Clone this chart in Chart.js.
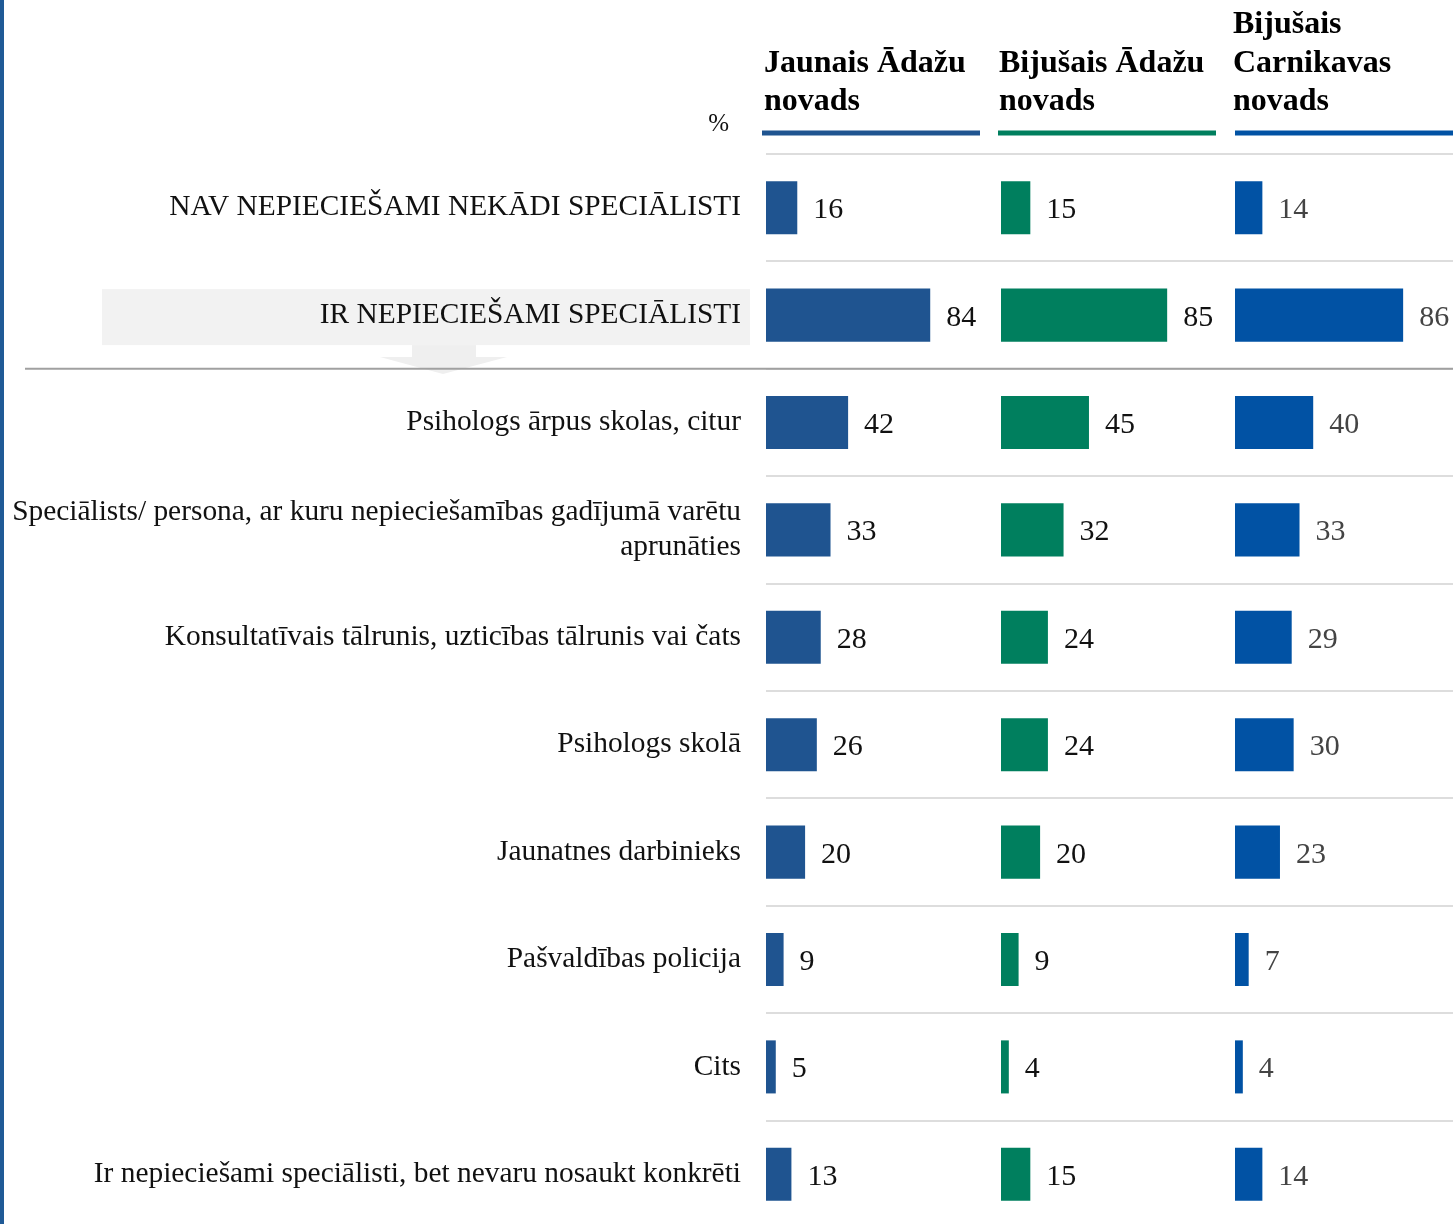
<!DOCTYPE html>
<html lang="lv">
<head>
<meta charset="utf-8">
<title>Speciālisti</title>
<script src="https://cdn.jsdelivr.net/npm/chart.js@4/dist/chart.umd.min.js"></script>
<style>
  html, body { margin: 0; padding: 0; background: #fff; overflow: hidden; }
  #wrap { position: absolute; left: 0; top: 0; width: 1453px; height: 1228px; }
</style>
</head>
<body>
<div id="wrap"><canvas id="chart"></canvas></div>
<script>
// Dati (procenti)
const kategorijas = [
    'NAV NEPIECIEŠAMI NEKĀDI SPECIĀLISTI',
    'IR NEPIECIEŠAMI SPECIĀLISTI',
    'Psihologs ārpus skolas, citur',
    ['Speciālists/ persona, ar kuru nepieciešamības gadījumā varētu', 'aprunāties'],
    'Konsultatīvais tālrunis, uzticības tālrunis vai čats',
    'Psihologs skolā',
    'Jaunatnes darbinieks',
    'Pašvaldības policija',
    'Cits',
    'Ir nepieciešami speciālisti, bet nevaru nosaukt konkrēti'
];
const jaunaisAdazu = [16, 84, 42, 33, 28, 26, 20, 9, 5, 13];
const bijusaisAdazu = [15, 85, 45, 32, 24, 24, 20, 9, 4, 15];
const bijusaisCarnikava = [14, 86, 40, 33, 29, 30, 23, 7, 4, 14];
const virsraksti = [
    ['Jaunais Ādažu', 'novads'],
    ['Bijušais Ādažu', 'novads'],
    ['Bijušais', 'Carnikavas', 'novads']
];

const krasas = ['#1f5490', '#007f5e', '#0152a4'];
const vertibuKrasas = ['#111111', '#111111', '#444444'];
const svitrasNobide = [-4, -3, 0];
const fonts = "'Liberation Serif', 'Times New Roman', serif";

// Spraudnis: fons, virsraksti, vērtības, atdalītāji
const zimejums = {
    id: 'zimejums',
    beforeDraw(chart) {
        const ctx = chart.ctx;
        const y = chart.scales.y;
        ctx.save();
        // zilā josla kreisajā malā
        ctx.fillStyle = '#1f5a96';
        ctx.fillRect(0, 0, 4, chart.height);

        // pelēkais lauks ar bultu aiz "IR NEPIECIEŠAMI SPECIĀLISTI"
        const yc = y.getPixelForValue(1);
        ctx.fillStyle = '#f2f2f2';
        ctx.fillRect(102, yc - 26, 648, 56);
        ctx.fillStyle = '#efefef';
        ctx.fillRect(412, yc + 30, 64, 12);
        ctx.beginPath();
        ctx.moveTo(380, yc + 42);
        ctx.lineTo(507, yc + 42);
        ctx.lineTo(443, yc + 59);
        ctx.closePath();
        ctx.fill();

        // "%"
        ctx.fillStyle = '#111';
        ctx.font = '25px ' + fonts;
        ctx.textAlign = 'right';
        ctx.textBaseline = 'alphabetic';
        ctx.fillText('%', 729, 131);

        // kolonnu virsraksti
        ['x1', 'x2', 'x3'].forEach(function (id, i) {
            const s = chart.scales[id];
            const rindas = virsraksti[i];
            ctx.fillStyle = '#000';
            ctx.font = 'bold 32px ' + fonts;
            ctx.textAlign = 'left';
            for (let k = 0; k < rindas.length; k++) {
                const base = 110 - (rindas.length - 1 - k) * 38.5;
                ctx.fillText(rindas[k], s.left - 2, base);
            }
            ctx.fillStyle = krasas[i];
            const x0 = s.left + svitrasNobide[i];
            ctx.fillRect(x0, 130.5, Math.min(218, chart.width - x0), 5);
        });
        ctx.restore();
    },
    afterDatasetsDraw(chart) {
        const ctx = chart.ctx;
        const y = chart.scales.y;
        ctx.save();
        // vērtību etiķetes
        ctx.font = '30px ' + fonts;
        ctx.textAlign = 'left';
        ctx.textBaseline = 'alphabetic';
        chart.data.datasets.forEach(function (ds, i) {
            const meta = chart.getDatasetMeta(i);
            ctx.fillStyle = vertibuKrasas[i];
            meta.data.forEach(function (bar, j) {
                ctx.fillText(String(ds.data[j]), bar.x + 16, bar.y + 10.5);
            });
        });
        // tumšākā atdalītāja līnija
        const ly = (y.getPixelForValue(1) + y.getPixelForValue(2)) / 2;
        ctx.strokeStyle = '#a0a0a0';
        ctx.lineWidth = 2;
        ctx.beginPath();
        ctx.moveTo(25, ly);
        ctx.lineTo(chart.width, ly);
        ctx.stroke();
        ctx.restore();
    }
};

const datuKopas = [jaunaisAdazu, bijusaisAdazu, bijusaisCarnikava].map(function (d, i) {
    return {
        label: virsraksti[i].join(' '),
        data: d,
        xAxisID: 'x' + (i + 1),
        backgroundColor: krasas[i],
        grouped: false,
        barPercentage: 0.494,
        categoryPercentage: 1.0
    };
});

function xAss(max, weight) {
    return {
        type: 'linear',
        position: 'bottom',
        stack: 'paneli',
        stackWeight: weight,
        min: 0,
        max: max,
        display: false
    };
}

const grafiks = new Chart(document.getElementById('chart'), {
    type: 'bar',
    data: { labels: kategorijas, datasets: datuKopas },
    options: {
        indexAxis: 'y',
        responsive: true,
        maintainAspectRatio: false,
        animation: false,
        layout: { padding: { top: 154, left: 0, right: 0, bottom: 0 } },
        plugins: { legend: { display: false }, tooltip: { enabled: false } },
        scales: {
            x1: xAss(120.2, 235),
            x2: xAss(119.7, 234),
            x3: xAss(111.5, 218),
            y: {
                type: 'category',
                position: 'left',
                offset: true,
                afterFit: function (scale) { scale.width = 766; },
                border: { display: false },
                grid: {
                    offset: true,
                    drawTicks: false,
                    color: '#dddddd',
                    lineWidth: 2
                },
                ticks: {
                    padding: 25,
                    color: '#111111',
                    font: { family: fonts, size: 29.4, lineHeight: 1.17 }
                }
            }
        }
    },
    plugins: [zimejums]
});

// ja zīmēšanas laukuma apakša nesakrīt ar 1228 px, pagarina kanvu
const trukst = 1228 - grafiks.chartArea.bottom;
if (Math.abs(trukst) > 1) {
    document.getElementById('wrap').style.height = (1228 + trukst) + 'px';
    grafiks.resize();
}
</script>
</body>
</html>
